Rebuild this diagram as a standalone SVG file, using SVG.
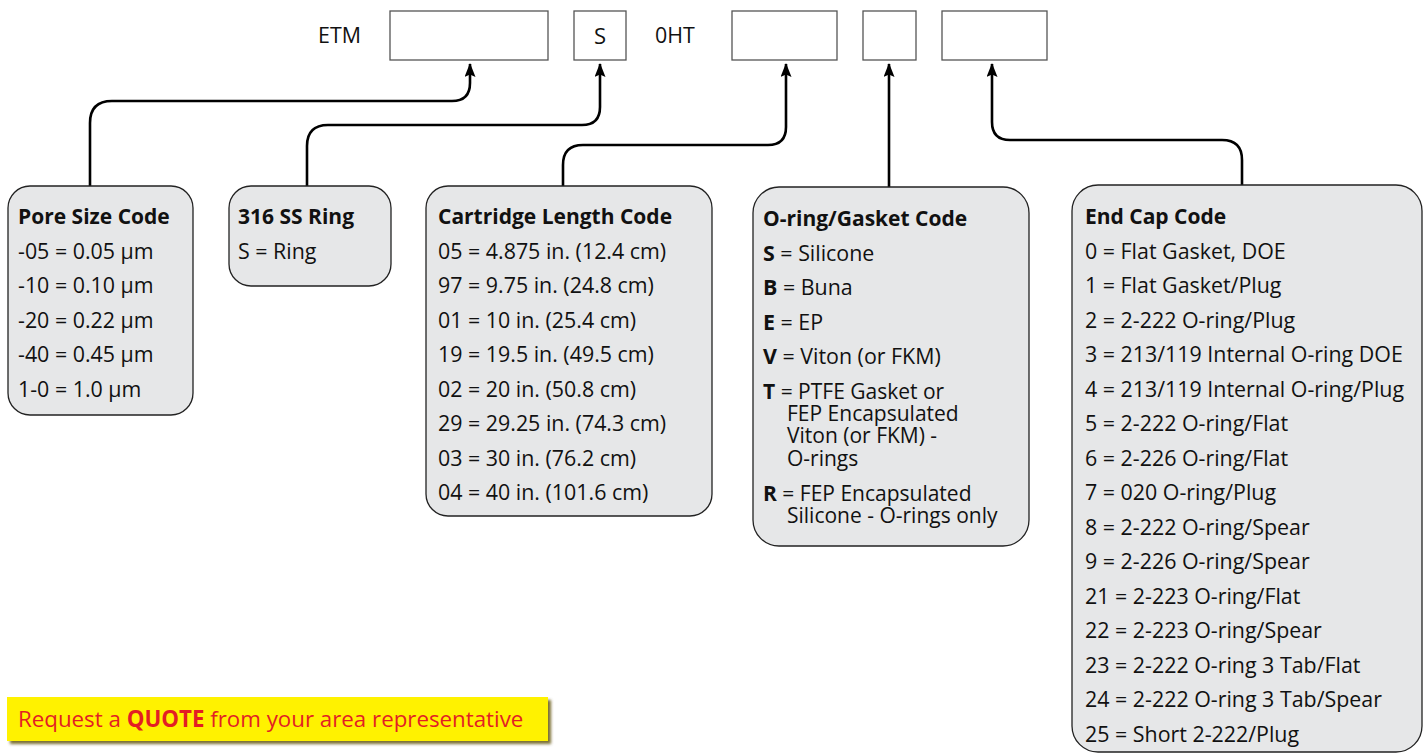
<svg xmlns="http://www.w3.org/2000/svg" width="1427" height="754" viewBox="0 0 1427 754">
<style>
.t{font-family:"Open Sans","Liberation Sans",sans-serif;font-size:21.4px;fill:#111}
.b{font-weight:bold}
.h{font-size:21px}
.w{font-size:21px}
.slot{fill:#fff;stroke:#555;stroke-width:1.3}
.card{fill:#e6e7e8;stroke:#222;stroke-width:1.3}
.con{fill:none;stroke:#000;stroke-width:2.6}
</style>
<defs>
<marker id="ar" viewBox="0 0 14 11" refX="13" refY="5.5" markerWidth="14" markerHeight="11" markerUnits="userSpaceOnUse" orient="auto">
<path d="M0,0 L14,5.5 L0,11 L2.5,5.5 Z" fill="#000"/>
</marker>
<filter id="sh" x="-5%" y="-30%" width="110%" height="170%">
<feDropShadow dx="3" dy="3" stdDeviation="1.5" flood-color="#5a4a00" flood-opacity="0.8"/>
</filter>
</defs>

<g id="code-header">
<text class="t" x="318" y="43">ETM</text>
<rect class="slot" x="390" y="11" width="158" height="49"/>
<rect class="slot" x="574" y="11" width="52" height="49"/>
<text class="t" x="600" y="44" text-anchor="middle" style="font-size:22px">S</text>
<text class="t" x="655" y="43">0HT</text>
<rect class="slot" x="732" y="11" width="105" height="49"/>
<rect class="slot" x="863" y="11" width="53" height="49"/>
<rect class="slot" x="942" y="11" width="105" height="49"/>
</g>

<g id="connectors">
<path class="con" marker-end="url(#ar)" d="M90,187 V123 Q90,101 112,101 H452 Q470,101 470,83 V64"/>
<path class="con" marker-end="url(#ar)" d="M307,187 V146 Q307,125 328,125 H582 Q600,125 600,107 V64"/>
<path class="con" marker-end="url(#ar)" d="M563,187 V165 Q563,145 583,145 H768 Q786,145 786,127 V64"/>
<path class="con" marker-end="url(#ar)" d="M889,188 V64"/>
<path class="con" marker-end="url(#ar)" d="M1242,185 V160 Q1242,140 1222,140 H1010 Q992,140 992,122 V64"/>
</g>

<g id="pore-size">
<rect class="card" x="8" y="186" width="185" height="229" rx="22"/>
<text class="t b h" x="18" y="224">Pore Size Code</text>
<text class="t" x="18" y="259">-05 = 0.05 µm</text>
<text class="t" x="18" y="293">-10 = 0.10 µm</text>
<text class="t" x="18" y="328">-20 = 0.22 µm</text>
<text class="t" x="18" y="362">-40 = 0.45 µm</text>
<text class="t" x="18" y="397">1-0 = 1.0 µm</text>
</g>

<g id="ss-ring">
<rect class="card" x="229" y="186" width="162" height="100" rx="22"/>
<text class="t b h" x="238" y="224">316 SS Ring</text>
<text class="t" x="238" y="259">S = Ring</text>
</g>

<g id="cartridge-length">
<rect class="card" x="426" y="186" width="286" height="330" rx="22"/>
<text class="t b h" x="438" y="224">Cartridge Length Code</text>
<text class="t" x="438" y="259">05 = 4.875 in. (12.4 cm)</text>
<text class="t" x="438" y="293">97 = 9.75 in. (24.8 cm)</text>
<text class="t" x="438" y="328">01 = 10 in. (25.4 cm)</text>
<text class="t" x="438" y="362">19 = 19.5 in. (49.5 cm)</text>
<text class="t" x="438" y="397">02 = 20 in. (50.8 cm)</text>
<text class="t" x="438" y="431">29 = 29.25 in. (74.3 cm)</text>
<text class="t" x="438" y="466">03 = 30 in. (76.2 cm)</text>
<text class="t" x="438" y="500">04 = 40 in. (101.6 cm)</text>
</g>

<g id="oring-gasket">
<rect class="card" x="753" y="187" width="276" height="359" rx="26"/>
<text class="t b h" x="763" y="226">O-ring/Gasket Code</text>
<text class="t" x="763" y="261"><tspan class="b">S</tspan> = Silicone</text>
<text class="t" x="763" y="295"><tspan class="b">B</tspan> = Buna</text>
<text class="t" x="763" y="330"><tspan class="b">E</tspan> = EP</text>
<text class="t" x="763" y="364"><tspan class="b">V</tspan> = Viton (or FKM)</text>
<text class="t w" x="763" y="399"><tspan class="b">T</tspan> = PTFE Gasket or</text>
<text class="t w" x="787" y="421">FEP Encapsulated</text>
<text class="t w" x="787" y="443">Viton (or FKM) -</text>
<text class="t w" x="787" y="466">O-rings</text>
<text class="t w" x="763" y="501"><tspan class="b">R</tspan> = FEP Encapsulated</text>
<text class="t w" x="787" y="523">Silicone - O-rings only</text>
</g>

<g id="end-cap">
<rect class="card" x="1072" y="185" width="350" height="567" rx="26"/>
<text class="t b h" x="1085" y="224">End Cap Code</text>
<text class="t" x="1085" y="259">0 = Flat Gasket, DOE</text>
<text class="t" x="1085" y="293">1 = Flat Gasket/Plug</text>
<text class="t" x="1085" y="328">2 = 2-222 O-ring/Plug</text>
<text class="t" x="1085" y="362">3 = 213/119 Internal O-ring DOE</text>
<text class="t" x="1085" y="397">4 = 213/119 Internal O-ring/Plug</text>
<text class="t" x="1085" y="431">5 = 2-222 O-ring/Flat</text>
<text class="t" x="1085" y="466">6 = 2-226 O-ring/Flat</text>
<text class="t" x="1085" y="500">7 = 020 O-ring/Plug</text>
<text class="t" x="1085" y="535">8 = 2-222 O-ring/Spear</text>
<text class="t" x="1085" y="569">9 = 2-226 O-ring/Spear</text>
<text class="t" x="1085" y="604">21 = 2-223 O-ring/Flat</text>
<text class="t" x="1085" y="638">22 = 2-223 O-ring/Spear</text>
<text class="t" x="1085" y="673">23 = 2-222 O-ring 3 Tab/Flat</text>
<text class="t" x="1085" y="707">24 = 2-222 O-ring 3 Tab/Spear</text>
<text class="t" x="1085" y="742">25 = Short 2-222/Plug</text>
</g>

<g id="quote-button">
<rect x="7" y="697" width="541" height="44" fill="#fff200" filter="url(#sh)"/>
<text class="t" x="18" y="727" style="fill:#e31e24;font-size:22.3px">Request a <tspan class="b">QUOTE</tspan> from your area representative</text>
</g>
</svg>
